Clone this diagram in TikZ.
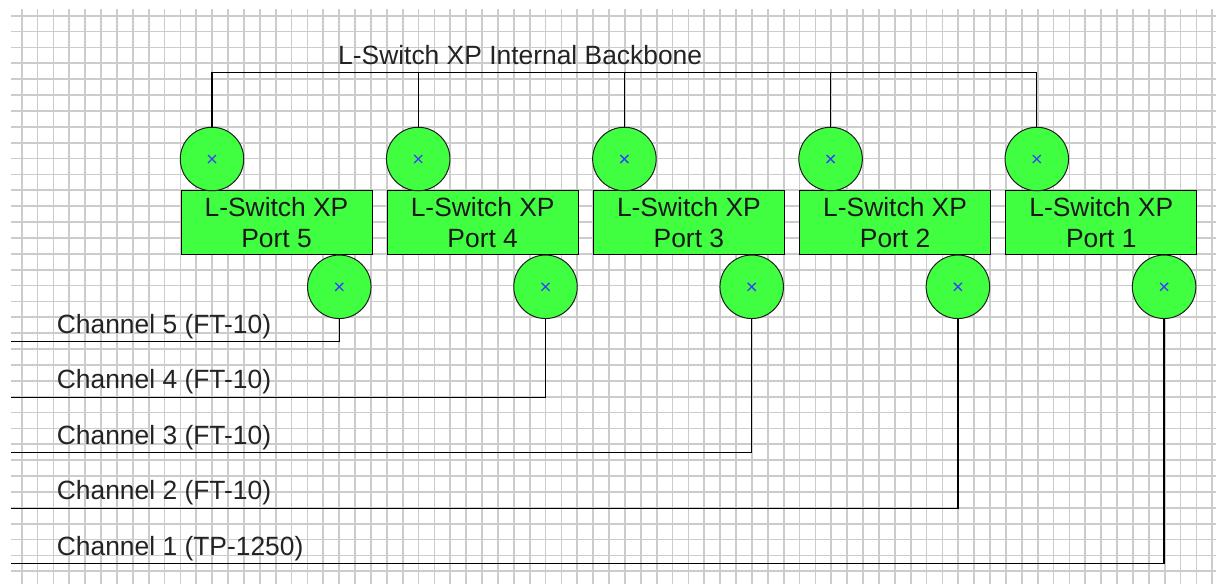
\documentclass[tikz,border=0pt]{standalone}
\usepackage{fontspec}
\setmainfont{Liberation Sans}
\begin{document}
\begin{tikzpicture}[x=1pt,y=-1pt,
  gridline/.style={draw={rgb,255:red,204;green,204;blue,204},line width=1.7pt},
  portbox/.style={rectangle,draw=black,line width=1pt,fill={rgb,255:red,64;green,255;blue,64},
    minimum width=191pt,minimum height=63.5pt,inner sep=0pt,align=center,
    font=\fontsize{26.4}{31}\selectfont,text={rgb,255:red,25;green,25;blue,25}},
  portcirc/.style={circle,draw={rgb,255:red,30;green,30;blue,30},line width=1pt,
    fill={rgb,255:red,64;green,255;blue,64},minimum size=63.5pt,inner sep=0pt},
  wire/.style={draw=black,line width=1.3pt},
  lbl/.style={font=\fontsize{26.4}{31}\selectfont,inner sep=0pt,anchor=base west,
    text={rgb,255:red,35;green,35;blue,35}},
  xmark/.style={draw={rgb,255:red,60;green,60;blue,255},line width=1.3pt}
]
\useasboundingbox (0,0) rectangle (1216,584);
\fill[white] (0,0) rectangle (1216,584);
% grid
\begin{scope}
\clip (11,9) rectangle (1216,584);
\foreach \k in {0,...,75} \draw[gridline] (21.7+15.875*\k,9) -- (21.7+15.875*\k,584);
\foreach \k in {0,...,35} \draw[gridline] (11,15.7+15.875*\k) -- (1216,15.7+15.875*\k);
\end{scope}
% ports
\foreach \n [count=\i from 0] in {5,4,3,2,1} {
  \node[portbox] (p\n) at (276.5+206.2*\i,222.7) {L-Switch XP\\Port \n};
  \node[portcirc] (t\n) at (212+206.2*\i,159) {};
  \node[portcirc] (b\n) at (339.3+206.2*\i,286.8) {};
  \coordinate (bb\n) at (212+206.2*\i,72.3);
}
% backbone
\node[lbl] (bbl) at (338,64) {L-Switch XP Internal Backbone};
\foreach \n in {5,4,3,2,1} \draw[wire] (t\n.north) -- (bb\n);
\draw[wire] (bb5) -- (bb1);
% channels
\coordinate (c5) at (11,341.3);
\coordinate (c4) at (11,397.2);
\coordinate (c3) at (11,452.6);
\coordinate (c2) at (11,508.2);
\coordinate (c1) at (11,563.3);
\node[lbl] (l5) at (56.7,333) {Channel 5 (FT-10)};
\node[lbl] (l4) at (56.7,388.9) {Channel 4 (FT-10)};
\node[lbl] (l3) at (56.7,444.3) {Channel 3 (FT-10)};
\node[lbl] (l2) at (56.7,499.9) {Channel 2 (FT-10)};
\node[lbl] (l1) at (56.7,555) {Channel 1 (TP-1250)};
\foreach \n in {5,4,3,2,1} \draw[wire] (b\n.south) |- (c\n);
% crosses
\foreach \n in {5,4,3,2,1} {
  \draw[xmark,shift={(t\n.center)}] (-4,-4) -- (4,4) (-4,4) -- (4,-4);
  \draw[xmark,shift={(b\n.center)}] (-4,-4) -- (4,4) (-4,4) -- (4,-4);
}
\end{tikzpicture}
\end{document}
